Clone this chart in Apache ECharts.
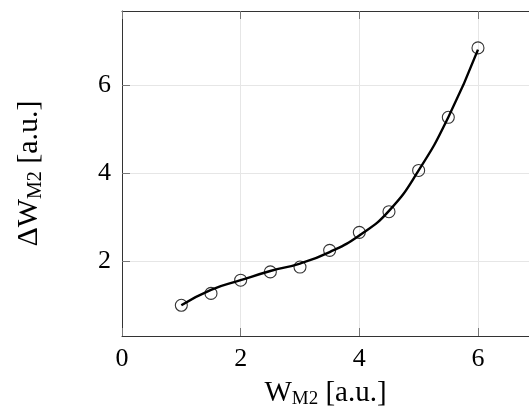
<!DOCTYPE html>
<html>
<head>
<meta charset="utf-8">
<script src="https://cdn.jsdelivr.net/npm/echarts@6/dist/echarts.min.js"></script>
<style>
html,body{margin:0;padding:0;background:#fff;}
#chart{width:529px;height:414px;}
</style>
</head>
<body>
<div id="chart"></div>
<script>
// Data
var xValues = [1, 1.5, 2, 2.5, 3, 3.5, 4, 4.5, 5, 5.5, 6];
var yValues = [1.00, 1.27, 1.57, 1.76, 1.87, 2.25, 2.66, 3.13, 4.07, 5.28, 6.86];
// fitted curve as drawn in the reference, read at the same x positions
var fitValues = [1.00, 1.35, 1.57, 1.78, 1.95, 2.21, 2.59, 3.15, 4.07, 5.28, 6.82];
var xTicks = [0, 2, 4, 6];
var yTicks = [2, 4, 6];

var FONT = 'Liberation Serif';
var pts = xValues.map(function (x, i) { return [x, yValues[i]]; });
var fitPts = xValues.map(function (x, i) { return [x, fitValues[i]]; });

var chart = echarts.init(document.getElementById('chart'), null, {renderer: 'canvas'});
var axisLineStyle = {show: true, onZero: false, lineStyle: {color: '#333', width: 1}};
var gridLine = {show: true, lineStyle: {color: '#e6e6e6', width: 1}};
function tick(vals) {
  return {show: true, inside: true, length: 8, lineStyle: {color: '#777', width: 1}, customValues: vals};
}
var xNameRich = {
  a: {fontFamily: FONT, fontSize: 29, color: '#000', lineHeight: 32},
  b: {fontFamily: FONT, fontSize: 19, color: '#000', lineHeight: 18, verticalAlign: 'bottom'}
};
var yNameRich = {
  a: {fontFamily: FONT, fontSize: 30, color: '#000', lineHeight: 34},
  b: {fontFamily: FONT, fontSize: 20, color: '#000', lineHeight: 19, verticalAlign: 'bottom'}
};

chart.setOption({
  animation: false,
  backgroundColor: '#fff',
  grid: {left: 122, top: 11, right: 0, height: 325, containLabel: false},
  xAxis: [{
    type: 'value', min: 0, max: 6.86, interval: 2,
    position: 'bottom',
    axisLine: axisLineStyle,
    axisTick: tick(xTicks),
    splitLine: gridLine,
    axisLabel: {fontFamily: FONT, fontSize: 26, color: '#000', margin: 10, customValues: xTicks},
    name: '{a|W}{b|M2}{a| [a.u.]}',
    nameLocation: 'middle',
    nameGap: 41,
    nameTextStyle: {rich: xNameRich}
  }, {
    type: 'value', min: 0, max: 6.86, interval: 2,
    position: 'top',
    axisLine: axisLineStyle,
    axisTick: tick(xTicks),
    splitLine: {show: false},
    axisLabel: {show: false}
  }],
  yAxis: [{
    type: 'value', min: 0.3, max: 7.7, splitNumber: 4,
    position: 'left',
    axisLine: axisLineStyle,
    axisTick: tick(yTicks),
    splitLine: gridLine,
    axisLabel: {fontFamily: FONT, fontSize: 26, color: '#000', margin: 11, customValues: yTicks},
    name: '{a|ΔW}{b|M2}{a| [a.u.]}',
    nameLocation: 'middle',
    nameGap: 76,
    nameTextStyle: {rich: yNameRich}
  }],
  series: [{
    type: 'line',
    data: fitPts,
    smooth: 0.5,
    showSymbol: false,
    lineStyle: {color: '#000', width: 2.4},
    z: 2
  }, {
    type: 'scatter',
    data: pts,
    symbol: 'circle',
    symbolSize: 12,
    itemStyle: {color: 'rgba(0,0,0,0)', borderColor: '#000', borderWidth: 1.1},
    z: 3
  }]
});
</script>
</body>
</html>
